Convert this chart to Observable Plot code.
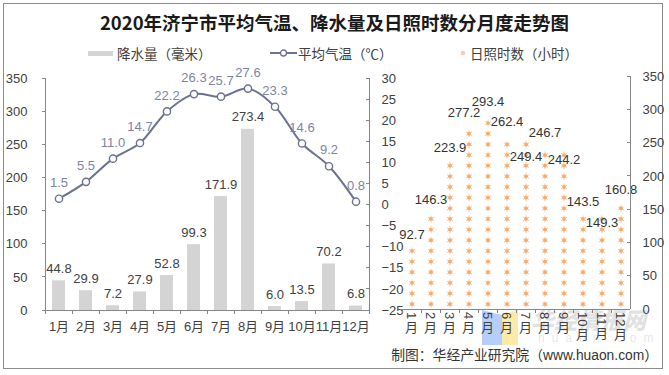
<!DOCTYPE html>
<html><head><meta charset="utf-8">
<script src="https://cdn.jsdelivr.net/npm/d3@7"></script>
<script src="https://cdn.jsdelivr.net/npm/@observablehq/plot@0.6"></script>
<style>
body{margin:0;background:#fff;}
#wrap{position:relative;width:669px;height:375px;overflow:hidden;background:#fff;font-family:"Liberation Sans","Noto Sans CJK SC",sans-serif;}
.abs{position:absolute;}
#frame{left:3px;top:3px;width:660px;height:366px;border:1px solid #8c8c8c;box-sizing:border-box;}
#title{left:0;top:9px;width:669px;text-align:center;font-family:"Noto Sans CJK SC",sans-serif;font-weight:700;font-size:18.5px;line-height:26px;color:#1a1a1a;}
.leg{top:44px;font-family:"Noto Sans CJK SC",sans-serif;font-size:13.5px;line-height:18px;color:#404040;white-space:nowrap;}
.fw{display:inline-block;width:1em;text-align:center;}
#caption{right:11px;top:345px;font-size:13.8px;line-height:18px;color:#333;white-space:nowrap;font-family:"Noto Sans CJK SC",sans-serif;}
#caption .lat{font-family:"Liberation Sans",sans-serif;}
#wm{left:531px;top:305px;font-family:"Noto Sans CJK SC",sans-serif;font-weight:900;font-style:italic;font-size:23px;line-height:28px;color:rgba(170,170,170,0.35);white-space:nowrap;}
#wm2{left:538px;top:331px;font-size:12px;letter-spacing:7px;color:rgba(170,170,170,0.3);white-space:nowrap;}
#logoB{left:482px;top:310px;width:20px;height:35px;background:rgba(120,165,245,0.55);clip-path:polygon(0 0,100% 14%,100% 100%,0 100%);}
#logoY{left:502px;top:310px;width:16px;height:35px;background:rgba(250,220,110,0.6);clip-path:polygon(0 14%,100% 0,100% 100%,0 100%);}
svg{overflow:visible;}
</style></head>
<body>
<div id="wrap">
  <div id="frame" class="abs"></div>
  <div id="title" class="abs">2020年济宁市平均气温、降水量及日照时数分月度走势图</div>
  <div id="legend"></div>
  <div id="wm" class="abs">华经情报网</div>
  <div id="wm2" class="abs">huaon.com</div>
  <div id="logoB" class="abs"></div>
  <div id="logoY" class="abs"></div>
  <div id="left" class="abs" style="left:0;top:60px;"></div>
  <div id="left2" class="abs" style="left:0;top:60px;"></div>
  <div id="right" class="abs" style="left:380px;top:60px;"></div>
  <div id="caption" class="abs">制图<span class="fw">：</span>华经产业研究院<span class="fw">（</span><span class="lat">www.huaon.com</span><span class="fw">）</span></div>
</div>
<script>
// ---- data ----
const months = ["1月","2月","3月","4月","5月","6月","7月","8月","9月","10月","11月","12月"];
const precip = [44.8, 29.9, 7.2, 27.9, 52.8, 99.3, 171.9, 273.4, 6.0, 13.5, 70.2, 6.8];
const temp = [1.5, 5.5, 11.0, 14.7, 22.2, 26.3, 25.7, 27.6, 23.3, 14.6, 9.2, 0.8];
const sun = [92.7, 146.3, 223.9, 277.2, 293.4, 262.4, 249.4, 246.7, 244.2, 143.5, 149.3, 160.8];
const precipTicks = [0, 50, 100, 150, 200, 250, 300, 350];
const tempTicks = [-25, -20, -15, -10, -5, 0, 5, 10, 15, 20, 25, 30];
const sunTicks = [0, 50, 100, 150, 200, 250, 300, 350];
const sunUnit = 16; // hours represented by one sun symbol
const sunLabelBelow = ["7月", "9月", "11月"];
const sunLabelLeft = ["4月"];
const legendNames = ["降水量", "平均气温", "日照时数"];
const legendUnits = ["毫米", "℃", "小时"];

// ---- styles ----
const FONT = '"Liberation Sans","Noto Sans CJK SC",sans-serif';
const AXIS = "#868686", TXT = "#404040";
const BAR = "#d4d4d4", LINE = "#6b7191", LINE_LBL = "#7d84a3";
const SUN = "#f4a462", SUN_RAY = "#f9c9a0";

const pData = months.map((m, i) => ({m, v: precip[i]}));
const tData = months.map((m, i) => ({m, t: temp[i]}));
const sData = months.map((m, i) => ({m, v: sun[i]}));
const sunDots = months.flatMap((m, i) =>
  d3.range(Math.floor(sun[i] / sunUnit + 0.5)).map(k => ({m, y: (k + 0.5) * sunUnit})));

// ---- legend ----
const fwText = (n, u) => `${n}<span class="fw">（</span>${u.length === 1 ? `<span class="fw">${u}</span>` : u}<span class="fw">）</span>`;
const leg = document.getElementById("legend");
leg.innerHTML = `
<div class="abs" style="left:88px;top:51px;width:25px;height:5px;background:${BAR}"></div>
<div class="abs leg" style="left:117px">${fwText(legendNames[0], legendUnits[0])}</div>
<svg class="abs" style="left:268px;top:46px" width="30" height="14"><line x1="2" y1="7" x2="29" y2="7" stroke="${LINE}" stroke-width="2"/><circle cx="15.5" cy="7" r="3" fill="#fff" stroke="${LINE}" stroke-width="1.3"/></svg>
<div class="abs leg" style="left:298px">${fwText(legendNames[1], legendUnits[1])}</div>
<svg class="abs" style="left:457px;top:47px" width="12" height="12"><circle cx="6" cy="6" r="2.2" fill="${SUN}" opacity="0.55"/></svg>
<div class="abs leg" style="left:470px">${fwText(legendNames[2], legendUnits[2])}</div>`;

const W = 400, H = 290;
const common = {
  width: W, height: H, marginLeft: 41, marginRight: 28, marginTop: 18, marginBottom: 40,
  style: {background: "transparent", fontFamily: FONT, fontSize: "13px", color: TXT, overflow: "visible"}
};
const xOpt = {type: "band", domain: months, paddingInner: 0.52, paddingOuter: 0.26, label: null};

// precipitation bars
const p1 = Plot.plot({
  ...common,
  x: xOpt,
  y: {domain: [0, 350], label: null},
  marks: [
    Plot.barY(pData, {x: "m", y: "v", fill: BAR}),
    Plot.text(pData, {x: "m", y: "v", text: d => d.v.toFixed(1), dy: -12, fill: TXT, fontSize: 13}),
    Plot.axisY({ticks: precipTicks, anchor: "left", tickSize: 0, tickPadding: 14, fontSize: 13, label: null}),
    Plot.axisX({anchor: "bottom", tickSize: 0, tickPadding: 11, fontSize: 13, label: null})
  ]
});
document.getElementById("left").appendChild(p1);

// temperature line (secondary axis)
const p2 = Plot.plot({
  ...common,
  x: {...xOpt, axis: null},
  y: {domain: [-25, 30], label: null},
  marks: [
    Plot.line(tData, {x: "m", y: "t", stroke: LINE, strokeWidth: 2, curve: "catmull-rom"}),
    Plot.dot(tData, {x: "m", y: "t", r: 3.6, fill: "#fff", stroke: LINE, strokeWidth: 1.4}),
    Plot.text(tData, {x: "m", y: "t", text: d => d.t.toFixed(1), dy: -16, fill: LINE_LBL, fontSize: 13}),
    Plot.axisY({ticks: tempTicks, anchor: "right", tickSize: 0, tickPadding: 9, fontSize: 13, textAnchor: "start", label: null})
  ]
});
document.getElementById("left2").appendChild(p2);

// sunshine pictogram
const above = sData.filter(d => !sunLabelBelow.includes(d.m) && !sunLabelLeft.includes(d.m));
const aboveLeft = sData.filter(d => sunLabelLeft.includes(d.m));
const below = sData.filter(d => sunLabelBelow.includes(d.m));
const lbl = d => d.v.toFixed(1);
const p3 = Plot.plot({
  width: 289, height: 290, marginLeft: 20, marginRight: 37, marginTop: 16, marginBottom: 41,
  style: {background: "transparent", fontFamily: FONT, fontSize: "13px", color: TXT, overflow: "visible"},
  x: {type: "band", domain: months, padding: 0, axis: null, label: null},
  y: {domain: [0, 350], label: null},
  marks: [
    Plot.dot(sunDots, {x: "m", y: "y", symbol: "asterisk", r: 3.3, stroke: SUN_RAY, strokeWidth: 1}),
    Plot.dot(sunDots, {x: "m", y: "y", r: 1.9, fill: SUN, fillOpacity: 0.85}),
    Plot.text(above, {x: "m", y: "v", text: lbl, dy: -12.5, fill: "#333", fontSize: 13}),
    Plot.text(aboveLeft, {x: "m", y: "v", text: lbl, dy: -12.5, dx: -5, fill: "#333", fontSize: 13}),
    Plot.text(below, {x: "m", y: "v", text: lbl, dy: 13, fill: "#333", fontSize: 13}),
    Plot.axisY({ticks: sunTicks, anchor: "right", tickSize: 0, tickPadding: 10, fontSize: 13, textAnchor: "start", label: null})
  ]
});
document.getElementById("right").appendChild(p3);

// ---- axis lines & ticks from the plots' scales ----
function lines(svg, segs) {
  const g = d3.select(svg).append("g").attr("stroke", AXIS).attr("stroke-width", 1).attr("shape-rendering", "crispEdges");
  segs.forEach(([x1, y1, x2, y2]) => g.append("line").attr("x1", x1).attr("y1", y1).attr("x2", x2).attr("y2", y2));
}
function bounds(sx) {
  const a = sx.apply(months[0]), b = sx.apply(months[1]);
  const step = b - a, start = a - (step - sx.bandwidth) / 2;
  return d3.range(months.length + 1).map(i => start + i * step);
}
{
  const sx = p1.scale("x"), sy = p1.scale("y"), sy2 = p2.scale("y");
  const bx = bounds(sx);
  const x0 = bx[0], x1 = bx[bx.length - 1];
  const y0 = sy.apply(0), yT = sy.apply(350);
  const segs = [[x0, yT, x0, y0], [x1, yT, x1, y0], [x0, y0, x1, y0]];
  precipTicks.forEach(v => segs.push([x0 - 3, sy.apply(v), x0, sy.apply(v)]));
  tempTicks.forEach(v => segs.push([x1 - 3, sy2.apply(v), x1, sy2.apply(v)]));
  bx.forEach(b => segs.push([b, y0, b, y0 + 4]));
  lines(p1, segs);
}
{
  const sx = p3.scale("x"), sy = p3.scale("y");
  const bx = bounds(sx);
  const x0 = bx[0], x1 = bx[bx.length - 1];
  const y0 = sy.apply(0), yT = sy.apply(350);
  const segs = [[x1, yT, x1, y0], [x0 - 2, y0, x1, y0]];
  sunTicks.forEach(v => segs.push([x1 - 3, sy.apply(v), x1, sy.apply(v)]));
  bx.slice(0, -1).forEach(b => segs.push([b, y0, b, y0 + 4]));
  lines(p3, segs);
  // stacked vertical month labels: digits turned 90° clockwise, 月 upright below
  const g = d3.select(p3).append("g").attr("fill", TXT).attr("font-size", 13).attr("font-family", FONT);
  months.forEach(m => {
    const cx = sx.apply(m) + sx.bandwidth / 2;
    const num = m.slice(0, -1), unit = m.slice(-1);
    const top = y0 + 3;
    const t = g.append("text")
      .attr("transform", `translate(${cx},${top}) rotate(90)`)
      .attr("text-anchor", "start")
      .attr("dy", "0.35em")
      .text(num);
    const len = t.node().getComputedTextLength();
    g.append("text")
      .attr("x", cx)
      .attr("y", top + len + 1)
      .attr("dy", "0.88em")
      .attr("text-anchor", "middle")
      .text(unit);
  });
}
</script>
</body></html>
